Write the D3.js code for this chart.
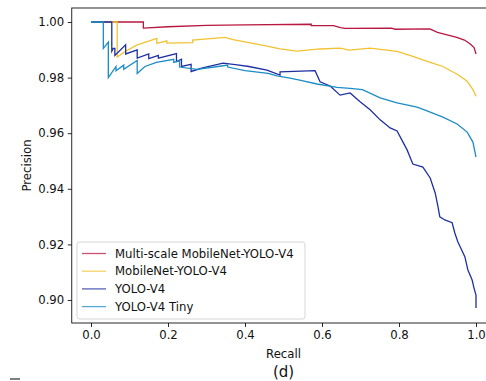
<!DOCTYPE html>
<html><head><meta charset="utf-8">
<script src="https://cdn.jsdelivr.net/npm/d3@7"></script>
<style>
html,body{margin:0;padding:0;background:#fff;overflow:hidden;}
svg{display:block;font-family:"DejaVu Sans",sans-serif;}
</style></head>
<body>
<svg id="chart" width="486" height="381"></svg>
<script>
// ---- data (recall, precision) ----
const seriesNames = ["Multi-scale MobileNet-YOLO-V4", "MobileNet-YOLO-V4", "YOLO-V4", "YOLO-V4 Tiny"];
const seriesColors = ["#b8173f", "#f2c230", "#1d2fa3", "#1c8cc6"];

const multiScale = [
  [0,1.0],[0.136,1.0],[0.136,0.9978],[0.2,0.9983],[0.3,0.9988],[0.4,0.9990],[0.572,0.9992],
  [0.572,0.9987],[0.63,0.9987],[0.648,0.9980],[0.66,0.9977],[0.78,0.9978],[0.79,0.9974],
  [0.88,0.9975],[0.9,0.9963],[0.93,0.9952],[0.95,0.9945],[0.97,0.9935],[0.985,0.9921],
  [0.995,0.9908],[1.0,0.9885]
];
const mobileNet = [
  [0,1.0],[0.068,1.0],[0.068,0.9874],[0.09,0.9895],[0.12,0.9918],[0.171,0.9941],[0.171,0.9923],
  [0.197,0.9932],[0.197,0.9924],[0.264,0.9926],[0.264,0.9935],[0.318,0.9941],[0.348,0.9945],
  [0.369,0.9937],[0.413,0.9925],[0.457,0.9913],[0.491,0.9903],[0.535,0.9895],[0.595,0.9903],
  [0.647,0.9906],[0.670,0.9899],[0.725,0.9906],[0.795,0.9894],[0.836,0.9876],[0.881,0.9855],
  [0.914,0.9840],[0.951,0.9812],[0.977,0.9787],[0.992,0.9757],[1.0,0.9733]
];
const yoloV4 = [
  [0,1.0],[0.054,1.0],[0.054,0.9895],[0.058,0.9905],[0.062,0.9905],[0.062,0.9880],[0.090,0.9918],
  [0.090,0.9885],[0.120,0.9900],[0.120,0.9870],[0.150,0.9885],[0.150,0.9868],[0.175,0.9880],
  [0.175,0.9870],[0.222,0.9886],[0.222,0.9858],[0.235,0.9866],[0.235,0.9840],[0.260,0.9848],
  [0.260,0.9822],[0.290,0.9835],[0.343,0.9852],[0.380,0.9846],[0.410,0.9840],[0.457,0.9827],
  [0.491,0.9809],[0.491,0.9821],[0.582,0.9825],[0.595,0.9785],[0.621,0.9770],[0.647,0.9737],
  [0.673,0.9745],[0.699,0.9713],[0.725,0.9684],[0.751,0.9648],[0.777,0.9619],[0.795,0.9608],
  [0.810,0.9569],[0.821,0.9540],[0.836,0.9489],[0.862,0.9478],[0.881,0.9439],[0.894,0.9385],
  [0.901,0.9338],[0.906,0.9299],[0.919,0.9288],[0.938,0.9278],[0.945,0.9241],[0.953,0.9209],
  [0.971,0.9156],[0.979,0.9108],[0.990,0.9072],[0.995,0.9042],[1.0,0.9018],[1.0,0.8971]
];
const yoloTiny = [
  [0,1.0],[0.032,1.0],[0.032,0.9905],[0.045,0.9928],[0.045,0.9800],[0.065,0.9840],[0.065,0.9825],
  [0.085,0.9845],[0.085,0.9830],[0.120,0.9862],[0.120,0.9815],[0.140,0.9840],[0.170,0.9855],
  [0.215,0.9866],[0.215,0.9855],[0.230,0.9860],[0.230,0.9838],[0.275,0.9830],[0.330,0.9840],
  [0.355,0.9845],[0.355,0.9838],[0.400,0.9825],[0.460,0.9815],[0.483,0.9806],[0.517,0.9798],
  [0.545,0.9790],[0.587,0.9777],[0.639,0.9765],[0.673,0.9761],[0.705,0.9757],[0.751,0.9727],
  [0.795,0.9709],[0.847,0.9694],[0.873,0.9680],[0.914,0.9658],[0.951,0.9633],[0.977,0.9604],
  [0.992,0.9568],[1.0,0.9514]
];
const allSeries = [multiScale, mobileNet, yoloV4, yoloTiny];

const xTicks = [0.0, 0.2, 0.4, 0.6, 0.8, 1.0];
const yTicks = [0.90, 0.92, 0.94, 0.96, 0.98, 1.00];
const xLabel = "Recall", yLabel = "Precision", caption = "(d)";

// ---- layout ----
const svg = d3.select("#chart");
const pL = 71.75, pR = 495.25, pT = 8, pB = 323;
const x = d3.scaleLinear().domain([-0.05, 1.05]).range([pL, pR]);
const y = d3.scaleLinear().domain([0.89173, 1.00504]).range([pB, pT]);

svg.append("defs").append("clipPath").attr("id","clip")
  .append("rect").attr("x",pL).attr("y",pT).attr("width",pR-pL).attr("height",pB-pT);

const line = d3.line().x(d => x(d[0])).y(d => y(d[1]));
const g = svg.append("g").attr("clip-path","url(#clip)");
allSeries.forEach((s,i) => {
  g.append("path").datum(s).attr("d", line)
    .attr("fill","none").attr("stroke", seriesColors[i]).attr("stroke-width",1.3)
    .attr("stroke-linejoin","miter");
});

// axes
const fs = "11.7px";
const xAxis = svg.append("g").attr("transform",`translate(0,${pB})`)
  .call(d3.axisBottom(x).tickValues(xTicks).tickFormat(d3.format(".1f")).tickSize(4).tickPadding(3.5));
const yAxis = svg.append("g").attr("transform",`translate(${pL},0)`)
  .call(d3.axisLeft(y).tickValues(yTicks).tickFormat(d3.format(".2f")).tickSize(4).tickPadding(3.5));
[xAxis,yAxis].forEach(a => {
  a.select(".domain").remove();
  a.selectAll("text").attr("font-size",fs).attr("font-family","DejaVu Sans").attr("fill","#111");
  a.selectAll("line").attr("stroke","#111").attr("stroke-width",0.9);
});
// spines
svg.append("rect").attr("x",pL).attr("y",pT).attr("width",pR-pL).attr("height",pB-pT)
  .attr("fill","none").attr("stroke","#111").attr("stroke-width",0.9);

// labels
svg.append("text").attr("x",(pL+pR)/2).attr("y",358).attr("text-anchor","middle")
  .attr("font-size",fs).attr("fill","#111").text(xLabel);
svg.append("text").attr("transform",`translate(31,${(pT+pB)/2}) rotate(-90)`).attr("text-anchor","middle")
  .attr("font-size",fs).attr("fill","#111").text(yLabel);
svg.append("text").attr("x",(pL+pR)/2).attr("y",377).attr("text-anchor","middle")
  .attr("font-size","15px").attr("fill","#111").text(caption);

// legend
const lg = svg.append("g");
lg.append("rect").attr("x",77).attr("y",242).attr("width",228).attr("height",77).attr("rx",2.5)
  .attr("fill","#fff").attr("fill-opacity",0.8).attr("stroke","#d0d0d0").attr("stroke-width",0.9);
seriesNames.forEach((n,i) => {
  const yy = 253.5 + i*17.7;
  lg.append("line").attr("x1",82).attr("x2",106).attr("y1",yy).attr("y2",yy)
    .attr("stroke",seriesColors[i]).attr("stroke-width",1.3).attr("stroke-opacity",0.75);
  lg.append("text").attr("x",115).attr("y",yy).attr("dy","0.36em").attr("font-size",fs).attr("fill","#111").text(n);
});
// partial mark at bottom-left edge of the cropped figure
svg.append("line").attr("x1",10).attr("x2",20).attr("y1",379).attr("y2",379).attr("stroke","#555").attr("stroke-width",1.5);
</script>
</body></html>
